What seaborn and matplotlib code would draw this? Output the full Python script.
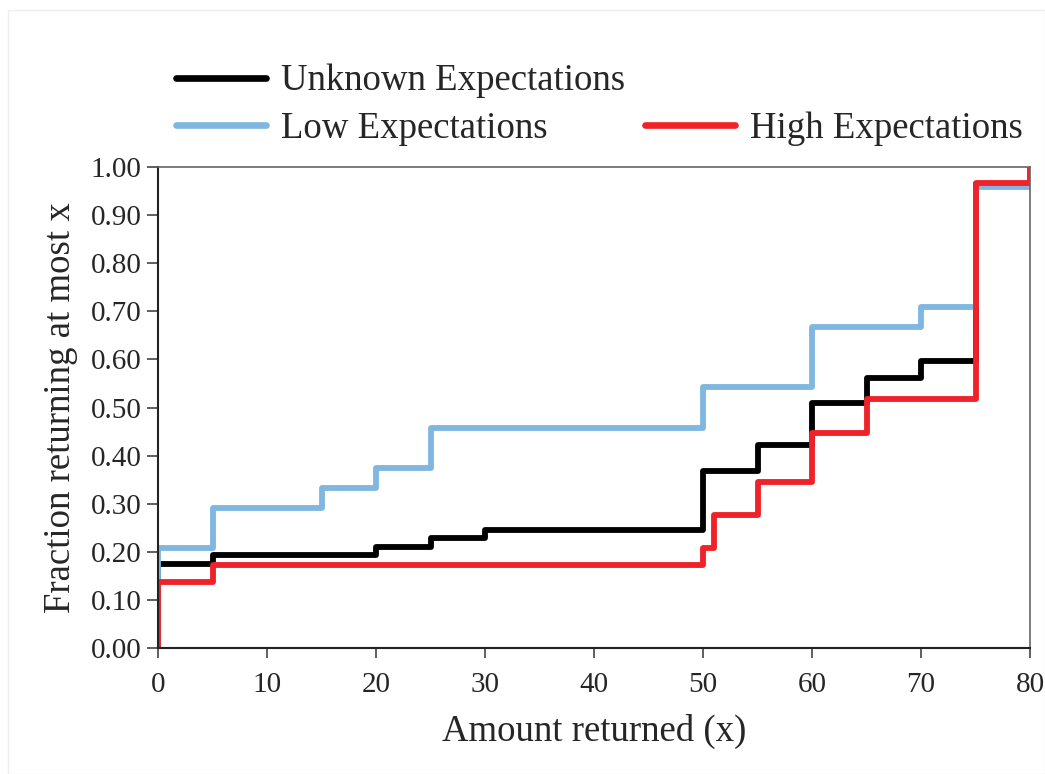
import matplotlib
matplotlib.use("Agg")
import matplotlib.pyplot as plt
from matplotlib.lines import Line2D
import seaborn as sns
import pandas as pd

sns.set_theme(style="ticks")
plt.rcParams['font.family'] = ['Liberation Serif', 'DejaVu Serif']

unknown_x = [0, 0, 5, 20, 25, 30, 50, 55, 60, 65, 70, 75, 80]
unknown_y = [0.0, 0.175, 0.193, 0.211, 0.228, 0.246, 0.368, 0.421, 0.509, 0.561, 0.596, 0.965, 1.0]

low_x = [0, 0, 5, 15, 20, 25, 50, 60, 70, 75, 80]
low_y = [0.0, 0.208, 0.292, 0.333, 0.375, 0.458, 0.542, 0.667, 0.708, 0.958, 1.0]

high_x = [0, 0, 5, 50, 51, 55, 60, 65, 75, 80]
high_y = [0.0, 0.138, 0.172, 0.207, 0.276, 0.345, 0.448, 0.517, 0.966, 1.0]

labels = ["Unknown Expectations", "Low Expectations", "High Expectations"]
colors = ["#000000", "#7fb7e0", "#ee2228"]

df = pd.concat([
    pd.DataFrame({"x": unknown_x, "y": unknown_y, "group": labels[0]}),
    pd.DataFrame({"x": low_x, "y": low_y, "group": labels[1]}),
    pd.DataFrame({"x": high_x, "y": high_y, "group": labels[2]}),
])

fig = plt.figure(figsize=(10.45, 7.74), dpi=100)
ax = fig.add_axes([158/1045, 1 - 648/774, (1030-158)/1045, (648-167)/774])

for lab, col in zip(labels, colors):
    sub = df[df.group == lab]
    sns.lineplot(data=sub, x="x", y="y", sort=False, estimator=None,
                 drawstyle="steps-post", color=col, linewidth=4.2, ax=ax,
                 legend=False, solid_joinstyle="round", solid_capstyle="round")

ax.set_xlim(0, 80)
ax.set_ylim(0, 1.0)
ax.set_xticks(range(0, 81, 10))
ax.set_yticks([i / 10 for i in range(11)])
ax.set_yticklabels([f"{i/10:.2f}" for i in range(11)])
ax.tick_params(axis="both", labelsize=21, width=1.2, color="#444444", direction="out")
ax.tick_params(axis="x", length=7, pad=10)
ax.tick_params(axis="y", length=8, pad=4)
ax.set_xlabel("Amount returned (x)", fontsize=26.5, labelpad=12)
ax.set_ylabel("Fraction returning at most x", fontsize=26.5, labelpad=9)
for s in ["left", "bottom"]:
    ax.spines[s].set_color("#222222")
    ax.spines[s].set_linewidth(1.5)
for s in ["top", "right"]:
    ax.spines[s].set_color("#666666")
    ax.spines[s].set_linewidth(1.2)

handles = [Line2D([], [], color=colors[0], lw=4.8, solid_capstyle="round"),
           Line2D([], [], color=colors[1], lw=4.8, solid_capstyle="round"),
           Line2D([], [], color="none", lw=0),
           Line2D([], [], color=colors[2], lw=4.8, solid_capstyle="round")]
leg_labels = [labels[0], labels[1], "", labels[2]]
fig.legend(handles, leg_labels, ncol=2, frameon=False, fontsize=26.5,
           loc="upper left", bbox_to_anchor=(176/1045, 1 - 64/774),
           handlelength=2.45, handletextpad=0.4, columnspacing=0.55,
           labelspacing=0.36, borderaxespad=0, borderpad=0)

fig.patches.append(plt.Rectangle((8/1045, 0), 1 - 8/1045, 1 - 10/774, transform=fig.transFigure,
                                 fill=False, edgecolor="#eeeeee", linewidth=1))

fig.savefig("out.png", dpi=100)
